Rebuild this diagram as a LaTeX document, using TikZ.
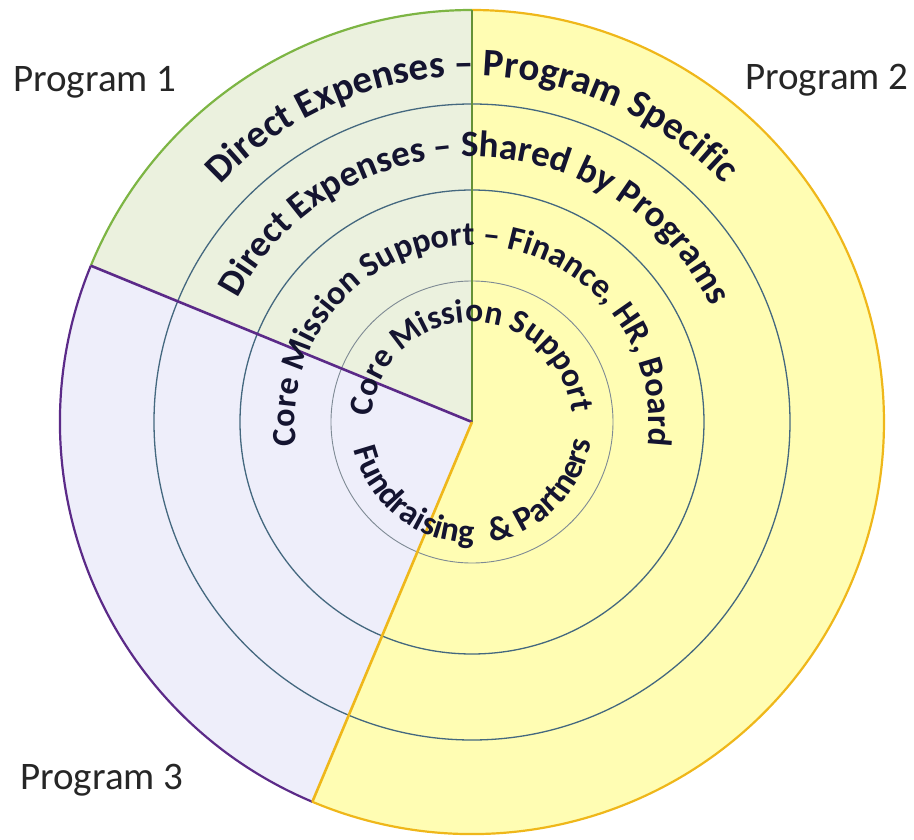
\documentclass[tikz,border=0pt]{standalone}
\usepackage{fontspec}
\setmainfont{Carlito}
\usetikzlibrary{decorations.text}

\definecolor{progonefill}{HTML}{EBF1DE}
\definecolor{progoneline}{HTML}{7DB544}
\definecolor{progtwofill}{HTML}{FFFDB3}
\definecolor{progtwoline}{HTML}{EFB71A}
\definecolor{progthreefill}{HTML}{EEEEFA}
\definecolor{progthreeline}{HTML}{5B2A88}
\definecolor{ringblue}{HTML}{44687F}
\definecolor{ringgrey}{HTML}{7E8A94}
\definecolor{labelink}{HTML}{141430}

\begin{document}
\begin{tikzpicture}[x=1pt,y=1pt,
		ring/.style={draw=ringblue, line width=1.3pt},
		spoke/.style={line width=2.6pt},
		ringtext/.style={decorate, decoration={text along path, text align=center, text color=labelink}},
		prog/.style={inner sep=0pt, anchor=base west, font=\fontsize{39}{40}\selectfont, text=black!85}]
	\useasboundingbox (-472,-417) rectangle (442,422);

	\coordinate (c) at (0,0);
	\coordinate (p1) at (90:412pt);
	\coordinate (p3) at (157.7:412pt);
	\coordinate (p2) at (247.2:412pt);

	\fill[progtwofill] (c) -- (p2) arc[start angle=247.2, end angle=450, radius=412pt] -- cycle;
	\fill[progonefill] (c) -- (p1) arc[start angle=90, end angle=157.7, radius=412pt] -- cycle;
	\fill[progthreefill] (c) -- (p3) arc[start angle=157.7, end angle=247.2, radius=412pt] -- cycle;

	\foreach \r in {318,232}
		\draw[ring] (c) circle[radius=\r pt];
	\draw[draw=ringgrey, line width=0.9pt] (c) circle[radius=141pt];

	\draw[progoneline, line width=2.2pt] (p1) arc[start angle=90, end angle=157.7, radius=412pt];
	\draw[progthreeline, line width=2.2pt] (p3) arc[start angle=157.7, end angle=247.2, radius=412pt];
	\draw[progtwoline, line width=2.2pt] (p2) arc[start angle=247.2, end angle=450, radius=412pt];
	\draw[spoke, progoneline!80!black] (c) -- (p1);
	\draw[spoke, progthreeline] (c) -- (p3);
	\draw[spoke, progtwoline] (c) -- (p2);

	\path[ringtext, decoration={text={|\bfseries\fontsize{39}{40}\selectfont|Direct Expenses – Program Specific}}]
		(200:346pt) arc[start angle=200, end angle=-20, radius=346pt];
	\path[ringtext, decoration={text={|\bfseries\fontsize{37}{40}\selectfont|Direct Expenses – Shared by Programs}}]
		(199:265pt) arc[start angle=199, end angle=-21, radius=265pt];
	\path[ringtext, decoration={text={|\bfseries\fontsize{34}{40}\selectfont|Core Mission Support – Finance{,} HR{,} Board}}]
		(225:177pt) arc[start angle=225, end angle=-45, radius=177pt];
	\path[ringtext, decoration={text={|\bfseries\fontsize{33.5}{40}\selectfont|Core Mission Support}}]
		(225:100pt) arc[start angle=225, end angle=-43, radius=100pt];
	\path[ringtext, decoration={text={|\bfseries\fontsize{34}{40}\selectfont|Fundraising{\hspace{10pt}} {\&} Partners}}]
		(137:121pt) arc[start angle=137, end angle=407, radius=121pt];

	\node[prog] (progone) at (-459,330) {Program 1};
	\node[prog] (progtwo) at (273,332) {Program 2};
	\node[prog] (progthree) at (-452,-367) {Program 3};
\end{tikzpicture}
\end{document}
